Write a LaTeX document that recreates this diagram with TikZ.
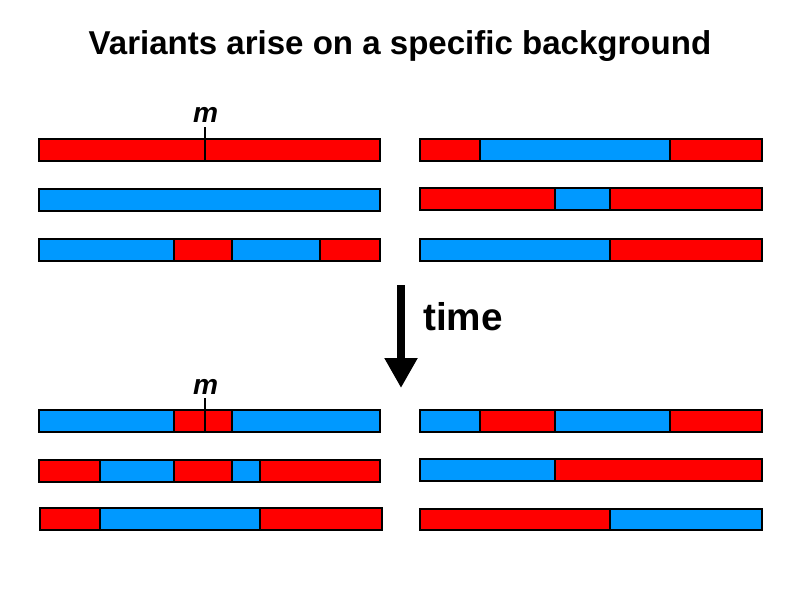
\documentclass[tikz,border=0pt]{standalone}
\usepackage{fontspec}
\setmainfont{Liberation Sans}
\usepackage{tikz}
\usetikzlibrary{arrows.meta, positioning}
\definecolor{hapred}{HTML}{FF0000}
\definecolor{hapblue}{HTML}{0099FF}

\begin{document}
\begin{tikzpicture}[x=0.025cm, y=-0.025cm,
    redseg/.style={draw=black, fill=hapred, line width=1.6pt},
    blueseg/.style={draw=black, fill=hapblue, line width=1.6pt},
    marker/.style={draw=black, line width=1.2pt},
    mlabel/.style={anchor=base, inner sep=0pt, font=\fontsize{20}{24}\selectfont\bfseries\itshape},
  ]
    \useasboundingbox (0,0) rectangle (800,600);
    \node[anchor=base, inner sep=0pt, font=\fontsize{23.5}{28}\selectfont\bfseries] (title) at (400,54)
      {Variants arise on a specific background};

    % before: left
    \draw[redseg]  (39,139) rectangle (380,161);
    \draw[blueseg] (39,189) rectangle (380,211);
    \draw[blueseg] (39,239) rectangle (174,261);
    \draw[redseg]  (174,239) rectangle (232,261);
    \draw[blueseg] (232,239) rectangle (320,261);
    \draw[redseg]  (320,239) rectangle (380,261);
    \node[mlabel] (m0) at (205.5,122) {m};
    \coordinate (m0top) at (205,127);
    \coordinate (m0bot) at (205,161);
    \draw[marker] (m0top) -- (m0bot);

    % before: right
    \draw[redseg]  (420,139) rectangle (480,161);
    \draw[blueseg] (480,139) rectangle (670,161);
    \draw[redseg]  (670,139) rectangle (762,161);
    \draw[redseg]  (420,188) rectangle (555,210);
    \draw[blueseg] (555,188) rectangle (610,210);
    \draw[redseg]  (610,188) rectangle (762,210);
    \draw[blueseg] (420,239) rectangle (610,261);
    \draw[redseg]  (610,239) rectangle (762,261);

    % time arrow
    \coordinate (ttop) at (401,285);
    \coordinate (ttip) at (401,388);
    \draw[line width=0.2cm, -{Triangle[length=0.75cm, width=0.78cm]}] (ttop) -- (ttip);
    \node[anchor=base west, inner sep=0pt, font=\fontsize{27.5}{32}\selectfont\bfseries] (tlabel) at (423,330) {time};

    % after: left
    \draw[blueseg] (39,410) rectangle (174,432);
    \draw[redseg]  (174,410) rectangle (232,432);
    \draw[blueseg] (232,410) rectangle (380,432);
    \node[mlabel] (m1) at (205.5,394) {m};
    \coordinate (m1top) at (205,398);
    \coordinate (m1bot) at (205,432);
    \draw[marker] (m1top) -- (m1bot);
    \draw[redseg]  (39,460) rectangle (100,482);
    \draw[blueseg] (100,460) rectangle (174,482);
    \draw[redseg]  (174,460) rectangle (232,482);
    \draw[blueseg] (232,460) rectangle (260,482);
    \draw[redseg]  (260,460) rectangle (380,482);
    \draw[redseg]  (40,508) rectangle (100,530);
    \draw[blueseg] (100,508) rectangle (260,530);
    \draw[redseg]  (260,508) rectangle (382,530);

    % after: right
    \draw[blueseg] (420,410) rectangle (480,432);
    \draw[redseg]  (480,410) rectangle (555,432);
    \draw[blueseg] (555,410) rectangle (670,432);
    \draw[redseg]  (670,410) rectangle (762,432);
    \draw[blueseg] (420,459) rectangle (555,481);
    \draw[redseg]  (555,459) rectangle (762,481);
    \draw[redseg]  (420,509) rectangle (610,530);
    \draw[blueseg] (610,509) rectangle (762,530);
  \end{tikzpicture}
\end{document}
